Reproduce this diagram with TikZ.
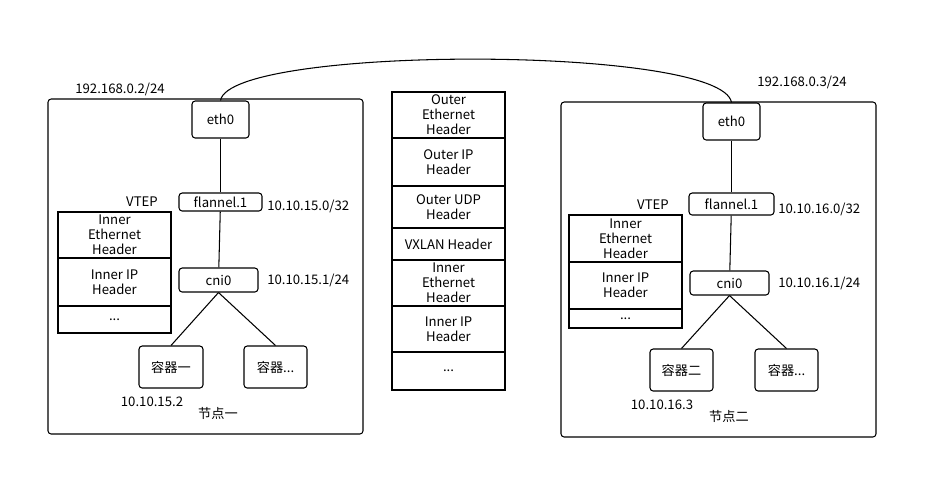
\documentclass[tikz,border=0pt]{standalone}
\usepackage{fontspec}
\setmainfont{Noto Sans CJK SC}
\newcommand\hdots{...}
\begin{document}
\begin{tikzpicture}[x=0.02cm,y=-0.02cm,line width=0.6pt,
    font=\fontsize{7.5}{8.5}\selectfont,
    box/.style={draw,rounded corners=1.8pt},
    hdr/.style={draw,align=center,minimum width=2.26cm,inner sep=0pt},
    lbl/.style={inner sep=1pt}]
  \useasboundingbox (0,0) rectangle (939,498);

  % node one
  \draw[box] (48,99) rectangle (363,434);
  \node[lbl] (ipa) at (120,89) {192.168.0.2/24};
  \node[box,minimum width=1.14cm,minimum height=0.74cm] (etha) at (220.5,119.5) {eth0};
  \node[box,minimum width=1.66cm,minimum height=0.36cm,inner sep=0pt] (fla) at (220.5,202) {flannel.1};
  \node[lbl,anchor=west] (fla-ip) at (265,206) {10.10.15.0/32};
  \node[lbl] (vtepa) at (142,202) {VTEP};
  \node[box,minimum width=1.58cm,minimum height=0.48cm,inner sep=0pt] (cnia) at (218.5,280) {cni0};
  \node[lbl,anchor=west] (cnia-ip) at (265,280) {10.10.15.1/24};
  \node[box,minimum width=1.28cm,minimum height=0.84cm] (ca1) at (171,367) {容器一};
  \node[box,minimum width=1.26cm,minimum height=0.84cm] (ca2) at (275.5,367) {容器\hdots};
  \node[lbl] (ca1-ip) at (152,402) {10.10.15.2};
  \node[lbl] (nodea) at (218,413) {节点一};
  \foreach[count=\i] \t/\a/\b in {Inner\\Ethernet\\Header/212/258,Inner IP\\Header/258/306,\hdots/306/333}
    \node[hdr,minimum height=(\b-\a)*0.02cm] (ha\i) at (114.5,{(\a+\b)/2}) {\t};
  \draw (etha) -- (fla);
  \draw (fla) -- (cnia);
  \draw (cnia.south) -- (ca1.north);
  \draw (cnia.south) -- (ca2.north);

  % packet
  \foreach[count=\i] \t/\a/\b in {Outer\\Ethernet\\Header/92/138,Outer IP\\Header/138/186,Outer UDP\\Header/186/228,VXLAN Header/228/260,Inner\\Ethernet\\Header/260/306,Inner IP\\Header/306/352,\hdots/352/390}
    \node[hdr,minimum height=(\b-\a)*0.02cm] (p\i) at (448.5,{(\a+\b)/2}) {\t};

  % node two
  \draw[box] (561,102) rectangle (876,437);
  \node[lbl] (ipb) at (802,82) {192.168.0.3/24};
  \node[box,minimum width=1.14cm,minimum height=0.74cm] (ethb) at (731.5,121.5) {eth0};
  \node[box,minimum width=1.7cm,minimum height=0.44cm,inner sep=0pt] (flb) at (731.5,204) {flannel.1};
  \node[lbl,anchor=west] (flb-ip) at (776,209) {10.10.16.0/32};
  \node[lbl] (vtepb) at (653,205) {VTEP};
  \node[box,minimum width=1.58cm,minimum height=0.48cm,inner sep=0pt] (cnib) at (729.5,283) {cni0};
  \node[lbl,anchor=west] (cnib-ip) at (776,283) {10.10.16.1/24};
  \node[box,minimum width=1.26cm,minimum height=0.84cm] (cb1) at (681.5,370) {容器二};
  \node[box,minimum width=1.26cm,minimum height=0.84cm] (cb2) at (786.5,370) {容器\hdots};
  \node[lbl] (cb1-ip) at (662,405) {10.10.16.3};
  \node[lbl] (nodeb) at (729,416) {节点二};
  \foreach[count=\i] \t/\a/\b in {Inner\\Ethernet\\Header/215/262,Inner IP\\Header/262/309,\hdots/309/328}
    \node[hdr,minimum height=(\b-\a)*0.02cm] (hb\i) at (625.5,{(\a+\b)/2}) {\t};
  \draw (ethb) -- (flb);
  \draw (flb) -- (cnib);
  \draw (cnib.south) -- (cb1.north);
  \draw (cnib.south) -- (cb2.north);

  % link
  \draw (etha.north) .. controls (230,45) and (722,45) .. (ethb.north);
\end{tikzpicture}
\end{document}
